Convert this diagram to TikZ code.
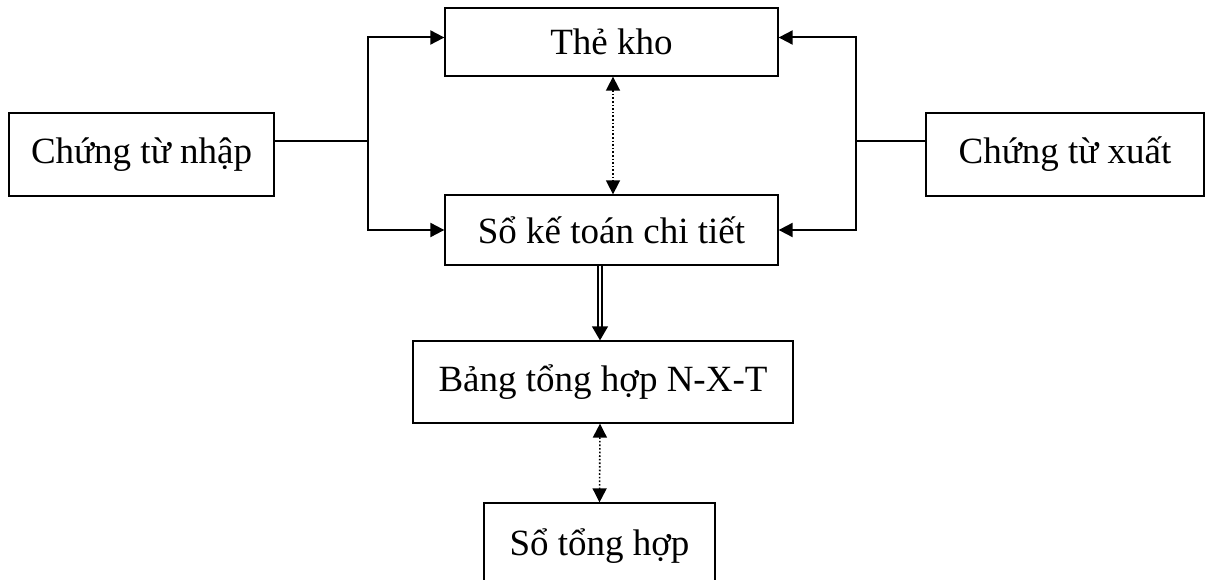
\documentclass[tikz,border=0pt]{standalone}
\usepackage{fontspec}
\setmainfont{Liberation Serif}
\usetikzlibrary{arrows.meta}
\begin{document}
\begin{tikzpicture}[x=1pt,y=-1pt,
  box/.style={draw,line width=1.3pt,rectangle,inner sep=0pt,
    font=\fontsize{37}{40}\selectfont},
  arr/.style={line width=2pt,-{Triangle[length=14pt,width=14pt]}},
  stub/.style={line width=1.4pt},
  dotarr/.style={line width=1.6pt,dotted,
    {Triangle[length=14pt,width=14pt]}-{Triangle[length=14pt,width=14pt]}},
  dblarr/.style={line width=1.3pt,double,double distance=2.6pt,
    -{Triangle[length=14pt,width=16pt]}}]
\useasboundingbox (0,0) rectangle (1205,580);

% boxes
\node[box,minimum width=333pt,minimum height=68pt] (thekho) at (611.5,42) {Thẻ kho};
\node[box,minimum width=333pt,minimum height=70pt] (sokt) at (611.5,230) {Sổ kế toán chi tiết};
\node[box,minimum width=265pt,minimum height=83pt] (nhap) at (141.5,154.5) {Chứng từ nhập};
\node[box,minimum width=278pt,minimum height=83pt] (xuat) at (1065,154.5) {Chứng từ xuất};
\node[box,minimum width=380pt,minimum height=82pt] (bang) at (603,382) {Bảng tổng hợp N-X-T};
\node[box,minimum width=231pt,minimum height=86pt] (sotong) at (599.5,546) {Sổ tổng hợp};

% junction points of the branches
\coordinate (jl) at (368,141);
\coordinate (jr) at (856,141);

% incoming documents
\draw[stub] ([yshift=13.5pt]nhap.east) -- (jl);
\draw[arr] (jl) |- ([yshift=4.5pt]thekho.west);
\draw[arr] (jl) |- (sokt.west);

% outgoing documents
\draw[stub] ([yshift=13.5pt]xuat.west) -- (jr);
\draw[arr] (jr) |- ([yshift=4.5pt]thekho.east);
\draw[arr] (jr) |- (sokt.east);

% reconciliation and summary
\draw[dotarr] ([xshift=1.5pt]thekho.south) -- ([xshift=1.5pt]sokt.north);
\draw[dblarr] ([xshift=-11.5pt]sokt.south) -- ([xshift=-3pt]bang.north);
\draw[dotarr] ([xshift=-3pt]bang.south) -- (sotong.north);
\end{tikzpicture}
\end{document}
